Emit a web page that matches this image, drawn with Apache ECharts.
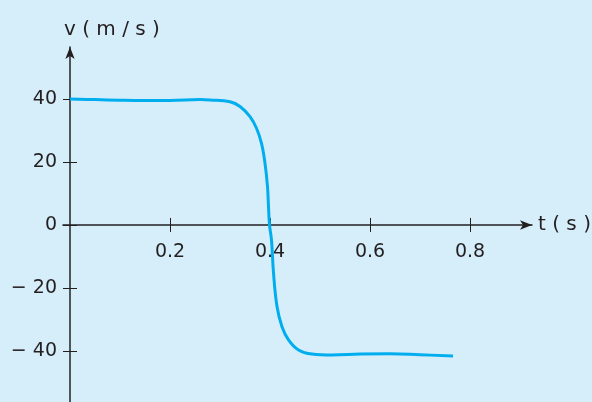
<!DOCTYPE html>
<html>
<head>
<meta charset="utf-8">
<script src="https://cdn.jsdelivr.net/npm/echarts@6/dist/echarts.min.js"></script>
<style>
  html, body { margin: 0; padding: 0; background: #d6edfa; }
  #chart { width: 592px; height: 402px; }
</style>
</head>
<body>
<div id="chart"></div>
<script>
  // t (s) and v (m/s)
  var tValues = [0, 0.05, 0.1, 0.146, 0.2, 0.26, 0.28, 0.32, 0.34, 0.36, 0.373, 0.383, 0.39, 0.395, 0.397, 0.399,
    0.403, 0.407, 0.414, 0.424, 0.437, 0.457, 0.484, 0.524, 0.58, 0.64, 0.7, 0.766]
  var vValues = [40, 39.8, 39.6, 39.5, 39.5, 39.8, 39.7, 39.1, 37.6, 34.4, 30.7, 25.9, 19.6, 12.2, 5.8, 0,
    -4.8, -15.2, -25.9, -32.3, -36.5, -39.7, -41.0, -41.3, -41.0, -40.9, -41.2, -41.6]
  var xTicks = [0.2, 0.4, 0.6, 0.8]
  var yTicks = [-40, -20, 0, 20, 40]

  var ink = '#231f20'
  var font = 'DejaVu Sans'

  // plot box and axis ranges
  var gridLeft = 63, gridWidth = 469, gridTop = 47, gridHeight = 357.5
  var xMin = -0.014, xMax = 0.924
  var yMin = -57, yMax = 56.5

  // the axes cross at (0, 0) inside the box, so shift them there with offsets
  var xZeroOffset = -gridHeight * (0 - yMin) / (yMax - yMin)   // from bottom edge
  var xZeroOffsetTop = -gridHeight * (yMax - 0) / (yMax - yMin) // from top edge
  var yZeroOffset = -gridWidth * (0 - xMin) / (xMax - xMin)     // from left edge
  var yZeroOffsetRight = -gridWidth * (xMax - 0) / (xMax - xMin)

  var points = []
  for (var i = 0; i < tValues.length; i++) {
    points.push([tValues[i], vValues[i]])
  }

  var yLabel = function (v) {
    return v < 0 ? '\u2212 ' + Math.abs(v) : String(v)
  }

  var tickStyle = { color: ink, width: 1 }
  var arrowLine = { onZero: false, symbol: ['none', 'arrow'], symbolSize: [7, 12], lineStyle: { color: ink, width: 1.5 } }

  var chart = echarts.init(document.getElementById('chart'))
  chart.setOption({
    backgroundColor: '#d6edfa',
    animation: false,
    grid: { left: gridLeft, width: gridWidth, top: gridTop, height: gridHeight, outerBoundsMode: 'none', containLabel: false },
    xAxis: [{
      type: 'value',
      position: 'bottom',
      offset: xZeroOffset,
      min: xMin,
      max: xMax,
      splitLine: { show: false },
      axisLine: arrowLine,
      axisTick: { customValues: xTicks, length: 7, lineStyle: tickStyle },
      axisLabel: { customValues: xTicks, margin: 18, color: ink, fontFamily: font, fontSize: 19 },
      name: 't ( s )',
      nameLocation: 'end',
      nameGap: 6,
      nameTextStyle: { color: ink, fontFamily: font, fontSize: 20, verticalAlign: 'middle' }
    }, {
      type: 'value',
      position: 'top',
      offset: xZeroOffsetTop,
      min: xMin,
      max: xMax,
      splitLine: { show: false },
      axisLine: { show: false, onZero: false },
      axisTick: { customValues: xTicks, length: 7, lineStyle: tickStyle },
      axisLabel: { show: false }
    }],
    yAxis: [{
      type: 'value',
      position: 'left',
      offset: yZeroOffset,
      min: yMin,
      max: yMax,
      splitLine: { show: false },
      axisLine: arrowLine,
      axisTick: { customValues: yTicks, length: 7, lineStyle: tickStyle },
      axisLabel: { customValues: yTicks, margin: 13, color: ink, fontFamily: font, fontSize: 19, formatter: yLabel },
      name: 'v ( m / s )',
      nameLocation: 'end',
      nameGap: 7,
      nameTextStyle: { color: ink, fontFamily: font, fontSize: 20, align: 'left', padding: [0, 0, 0, -6] }
    }, {
      type: 'value',
      position: 'right',
      offset: yZeroOffsetRight,
      min: yMin,
      max: yMax,
      splitLine: { show: false },
      axisLine: { show: false, onZero: false },
      axisTick: { customValues: yTicks, length: 7, lineStyle: tickStyle },
      axisLabel: { show: false }
    }],
    series: [{
      type: 'line',
      data: points,
      smooth: 0.4,
      symbol: 'none',
      lineStyle: { color: '#00aeef', width: 3 }
    }]
  })
</script>
</body>
</html>
